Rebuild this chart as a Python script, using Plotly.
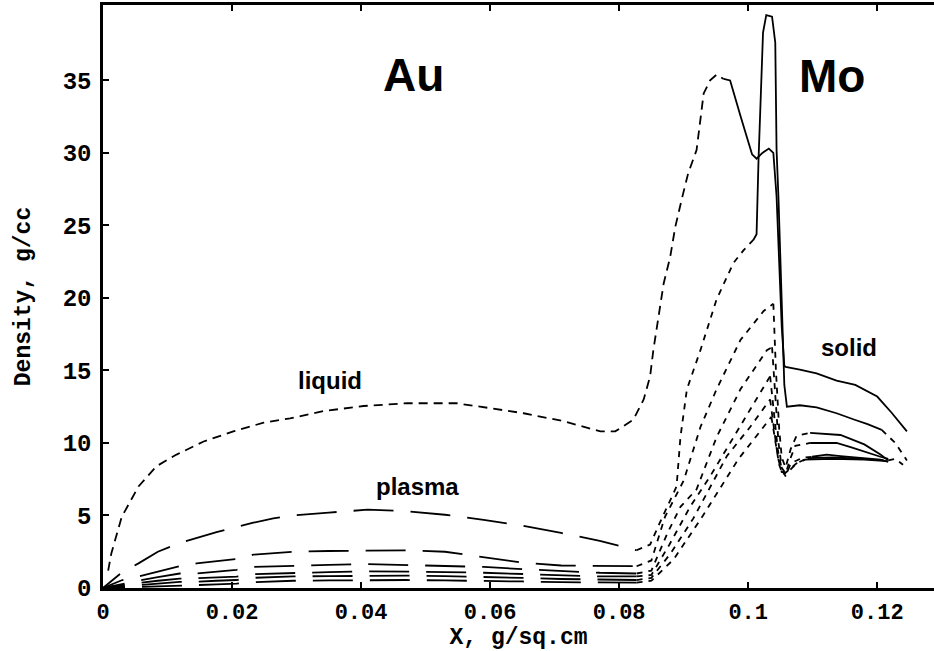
import plotly.graph_objects as go

# ---- tick labels -------------------------------------------------------
x_ticks = [0, 0.02, 0.04, 0.06, 0.08, 0.10, 0.12]
x_tick_text = ["0", "0.02", "0.04", "0.06", "0.08", "0.1", "0.12"]
y_ticks = [0, 5, 10, 15, 20, 25, 30, 35]
y_tick_text = ["0", "5", "10", "15", "20", "25", "30", "35"]

# ---- Au layer: density profiles on a shared mass grid (g/sq.cm) --------
au_x = [0, 0.003, 0.0055, 0.0085, 0.0119, 0.0145, 0.0176, 0.0207, 0.0233, 0.0264,
        0.0295, 0.035, 0.041, 0.047, 0.053, 0.059, 0.065, 0.071, 0.077, 0.0827]
plasma1_au = [0, 1.1, 1.7, 2.5, 3.1, 3.45, 3.85, 4.2, 4.5, 4.8,
              5.0, 5.2, 5.4, 5.3, 5.05, 4.7, 4.3, 3.8, 3.25, 2.6]
plasma2_au = [0, 0.55, 0.8, 1.15, 1.5, 1.7, 1.85, 2.0, 2.3, 2.4,
              2.5, 2.55, 2.6, 2.6, 2.5, 2.15, 1.75, 1.55, 1.5, 1.5]
plasma3_au = [0, 0.3, 0.5, 0.75, 1.0, 1.0, 1.1, 1.25, 1.45, 1.5,
              1.55, 1.6, 1.65, 1.6, 1.55, 1.45, 1.3, 1.15, 1.05, 1.0]
plasma4_au = [0, 0.2, 0.35, 0.5, 0.65, 0.67, 0.72, 0.78, 0.95, 1.0,
              1.05, 1.1, 1.15, 1.15, 1.1, 1.05, 0.95, 0.85, 0.8, 0.8]
plasma5_au = [0, 0.12, 0.2, 0.3, 0.42, 0.43, 0.5, 0.55, 0.7, 0.75,
              0.8, 0.82, 0.85, 0.85, 0.82, 0.78, 0.7, 0.62, 0.56, 0.55]
plasma6_au = [0, 0.05, 0.1, 0.15, 0.2, 0.2, 0.25, 0.3, 0.4, 0.45,
              0.5, 0.52, 0.55, 0.55, 0.52, 0.5, 0.45, 0.4, 0.37, 0.37]

# ---- liquid profile ----------------------------------------------------
liquid_x = [0.0008, 0.0013, 0.0029, 0.0055, 0.0083, 0.0114, 0.0156, 0.0202, 0.0249,
            0.029, 0.0342, 0.0404, 0.0471, 0.0548, 0.06, 0.0652, 0.0714, 0.0771,
            0.0794, 0.0822, 0.0838, 0.0848, 0.0853, 0.0861, 0.0869, 0.0879, 0.0887,
            0.0897, 0.0907, 0.092, 0.0926, 0.0931, 0.0941, 0.0951, 0.0962]
liquid_y = [1.2, 2.4, 4.9, 7.0, 8.4, 9.2, 10.1, 10.8, 11.4,
            11.7, 12.2, 12.55, 12.74, 12.74, 12.4, 12.05, 11.5, 10.8,
            10.8, 11.6, 13.0, 14.6, 16.4, 18.7, 21.0, 22.8, 24.9,
            26.8, 28.6, 30.2, 32.5, 34.1, 35.0, 35.4, 35.1]
liquid_solid_x = [0.0962, 0.0972, 0.0989, 0.1006, 0.1013, 0.1022, 0.1032, 0.1039, 0.1044,
                  0.1048, 0.1052, 0.1056, 0.1058, 0.108, 0.1106, 0.1137, 0.1166, 0.12,
                  0.1222, 0.1246]
liquid_solid_y = [35.1, 35.0, 32.4, 29.9, 29.6, 30.0, 30.3, 30.0, 27.0,
                  22.0, 18.0, 15.3, 15.25, 15.05, 14.8, 14.3, 14.0, 13.2,
                  12.1, 10.8]

# ---- Au/Mo interface (dashed rise) -------------------------------------
plasma1_mid_x = [0.0827, 0.0848, 0.0862, 0.0876, 0.0889, 0.0895, 0.0905, 0.0926, 0.0951,
                 0.0977, 0.0993, 0.1008]
plasma1_mid_y = [2.6, 3.0, 4.4, 5.8, 7.0, 10.4, 13.7, 16.4, 19.9, 22.4, 23.3, 24.0]
plasma2_mid_x = [0.0827, 0.0850, 0.0871, 0.0886, 0.0900, 0.0926, 0.0951, 0.0988, 0.1024, 0.1039]
plasma2_mid_y = [1.5, 1.9, 4.9, 6.2, 7.4, 11.1, 13.7, 17.1, 19.1, 19.6]
plasma3_mid_x = [0.0827, 0.0850, 0.0875, 0.0895, 0.0920, 0.0951, 0.0988, 0.1029, 0.1037]
plasma3_mid_y = [1.0, 1.2, 3.8, 5.6, 6.8, 10.4, 13.7, 16.4, 16.6]
plasma4_mid_x = [0.0827, 0.0850, 0.0878, 0.0910, 0.0941, 0.0977, 0.1008, 0.1034]
plasma4_mid_y = [0.8, 0.9, 3.0, 5.6, 7.7, 10.4, 12.7, 14.6]
plasma5_mid_x = [0.0827, 0.0850, 0.0880, 0.0915, 0.0967, 0.1003, 0.1034]
plasma5_mid_y = [0.55, 0.7, 2.4, 4.8, 9.1, 11.1, 13.0]
plasma6_mid_x = [0.0827, 0.085, 0.0885, 0.093, 0.0985, 0.1015, 0.1036]
plasma6_mid_y = [0.37, 0.5, 2.0, 5.0, 8.9, 10.6, 11.8]

# ---- dips just inside the Mo layer (dashed) ----------------------------
plasma2_dip_x = [0.1039, 0.1043, 0.1048, 0.1052, 0.1058, 0.1066, 0.1075, 0.1096]
plasma2_dip_y = [19.6, 15.0, 11.0, 9.0, 8.3, 9.6, 10.5, 10.7]
plasma3_dip_x = [0.1037, 0.1042, 0.1047, 0.1052, 0.1058, 0.1066, 0.1073, 0.1096]
plasma3_dip_y = [16.6, 13.0, 10.0, 8.3, 7.9, 9.0, 9.8, 10.0]
plasma4_dip_x = [0.1034, 0.1040, 0.1046, 0.1052, 0.1058, 0.1066, 0.1085, 0.1099]
plasma4_dip_y = [14.6, 12.0, 9.5, 8.2, 7.7, 8.6, 9.0, 9.05]
plasma5_dip_x = [0.1034, 0.104, 0.1046, 0.1052, 0.106, 0.1075, 0.1092]
plasma5_dip_y = [13.0, 11.0, 9.0, 8.0, 7.9, 8.6, 8.95]
plasma6_dip_x = [0.1036, 0.1042, 0.1048, 0.1054, 0.1062, 0.1075, 0.1088]
plasma6_dip_y = [11.8, 10.0, 8.5, 7.8, 8.1, 8.6, 8.85]

# ---- Mo layer (solid) --------------------------------------------------
plasma1_mo_x = [0.1008, 0.1013, 0.1016, 0.1019, 0.1023, 0.1028, 0.1037, 0.1042, 0.1044,
                0.1047, 0.1052, 0.1056, 0.106, 0.108, 0.1106, 0.1137, 0.1165, 0.1185, 0.1207]
plasma1_mo_y = [24.0, 24.4, 29.5, 33.7, 38.3, 39.5, 39.4, 37.6, 30.2,
                26.8, 19.9, 14.0, 12.5, 12.6, 12.45, 12.05, 11.6, 11.3, 10.9]
plasma2_mo_x = [0.1096, 0.112, 0.1143, 0.118, 0.1205, 0.1217]
plasma2_mo_y = [10.7, 10.65, 10.55, 9.9, 9.2, 8.8]
plasma3_mo_x = [0.1096, 0.1137, 0.116, 0.118, 0.1205, 0.1217]
plasma3_mo_y = [10.0, 10.0, 9.7, 9.4, 9.05, 8.9]
plasma4_mo_x = [0.1099, 0.1122, 0.1143, 0.118, 0.1205, 0.1217]
plasma4_mo_y = [9.05, 9.2, 9.1, 8.95, 8.85, 8.7]
plasma5_mo_x = [0.1092, 0.113, 0.118, 0.121]
plasma5_mo_y = [8.95, 9.0, 8.9, 8.8]
plasma6_mo_x = [0.1088, 0.113, 0.118, 0.1215]
plasma6_mo_y = [8.85, 8.9, 8.85, 8.75]

# ---- rear-surface tails (dashed) ---------------------------------------
plasma1_tail_x = [0.1207, 0.1218, 0.1228, 0.1237, 0.1246]
plasma1_tail_y = [10.9, 10.4, 10.0, 9.4, 8.8]
plasma2_tail_x = [0.1217, 0.1228, 0.124]
plasma2_tail_y = [8.8, 8.9, 8.5]

# ---- line styles -------------------------------------------------------
AU_DASH = "22px,17px," + ",".join(["40px,17px"] * 20)
LIQ_DASH = "9px,6px"
MID_DASH = "6px,6px"
LW = 1.8

segments = [
    (liquid_x, liquid_y, LIQ_DASH),
    (liquid_solid_x, liquid_solid_y, "solid"),
    (au_x, plasma1_au, AU_DASH),
    (au_x, plasma2_au, AU_DASH),
    (au_x, plasma3_au, AU_DASH),
    (au_x, plasma4_au, AU_DASH),
    (au_x, plasma5_au, AU_DASH),
    (au_x, plasma6_au, AU_DASH),
    (plasma1_mid_x, plasma1_mid_y, MID_DASH),
    (plasma2_mid_x, plasma2_mid_y, MID_DASH),
    (plasma3_mid_x, plasma3_mid_y, MID_DASH),
    (plasma4_mid_x, plasma4_mid_y, MID_DASH),
    (plasma5_mid_x, plasma5_mid_y, MID_DASH),
    (plasma6_mid_x, plasma6_mid_y, MID_DASH),
    (plasma2_dip_x, plasma2_dip_y, MID_DASH),
    (plasma3_dip_x, plasma3_dip_y, MID_DASH),
    (plasma4_dip_x, plasma4_dip_y, MID_DASH),
    (plasma5_dip_x, plasma5_dip_y, MID_DASH),
    (plasma6_dip_x, plasma6_dip_y, MID_DASH),
    (plasma1_mo_x, plasma1_mo_y, "solid"),
    (plasma2_mo_x, plasma2_mo_y, "solid"),
    (plasma3_mo_x, plasma3_mo_y, "solid"),
    (plasma4_mo_x, plasma4_mo_y, "solid"),
    (plasma5_mo_x, plasma5_mo_y, "solid"),
    (plasma6_mo_x, plasma6_mo_y, "solid"),
    (plasma1_tail_x, plasma1_tail_y, MID_DASH),
    (plasma2_tail_x, plasma2_tail_y, MID_DASH),
]

fig = go.Figure()
for xs, ys, dash in segments:
    fig.add_trace(go.Scatter(x=xs, y=ys, mode="lines", showlegend=False,
                             hoverinfo="skip",
                             line=dict(color="black", width=LW, dash=dash)))

MONO = "Liberation Mono, Courier New, monospace"
SANS = "Liberation Sans, Arial, sans-serif"

axis_common = dict(
    showline=True, linecolor="black", linewidth=2.5,
    ticks="inside", ticklen=6, tickwidth=2, tickcolor="black",
    showgrid=False, zeroline=False,
)

fig.update_xaxes(
    range=[0, 0.1288], tickvals=x_ticks, ticktext=x_tick_text, mirror="ticks",
    tickfont=dict(family=MONO, size=22, color="black", weight="bold"),
    ticklabelstandoff=2,
    title=dict(text="X, g/sq.cm", standoff=0,
               font=dict(family=MONO, size=23, color="black", weight="bold")),
    **axis_common,
)
fig.update_yaxes(
    range=[0, 40.2], tickvals=y_ticks, ticktext=y_tick_text,
    tickfont=dict(family=MONO, size=24, color="black", weight="bold"),
    ticklabelstandoff=4,
    title=dict(text="Density, g/cc", standoff=26,
               font=dict(family=MONO, size=23, color="black", weight="bold")),
    **axis_common,
)

labels = [
    ("Au", 0.0481, 35.4, 46),
    ("Mo", 0.1130, 35.3, 46),
    ("liquid", 0.0352, 14.3, 24),
    ("plasma", 0.0487, 6.97, 24),
    ("solid", 0.1157, 16.6, 24),
]
for text, ax, ay, size in labels:
    fig.add_annotation(x=ax, y=ay, text=text, showarrow=False,
                       xanchor="center", yanchor="middle",
                       font=dict(family=SANS, size=size, color="black", weight="bold"))

fig.update_layout(
    width=934, height=651,
    margin=dict(l=103, r=0, t=5, b=63),
    paper_bgcolor="white", plot_bgcolor="white",
)

fig.write_html("out.html")
